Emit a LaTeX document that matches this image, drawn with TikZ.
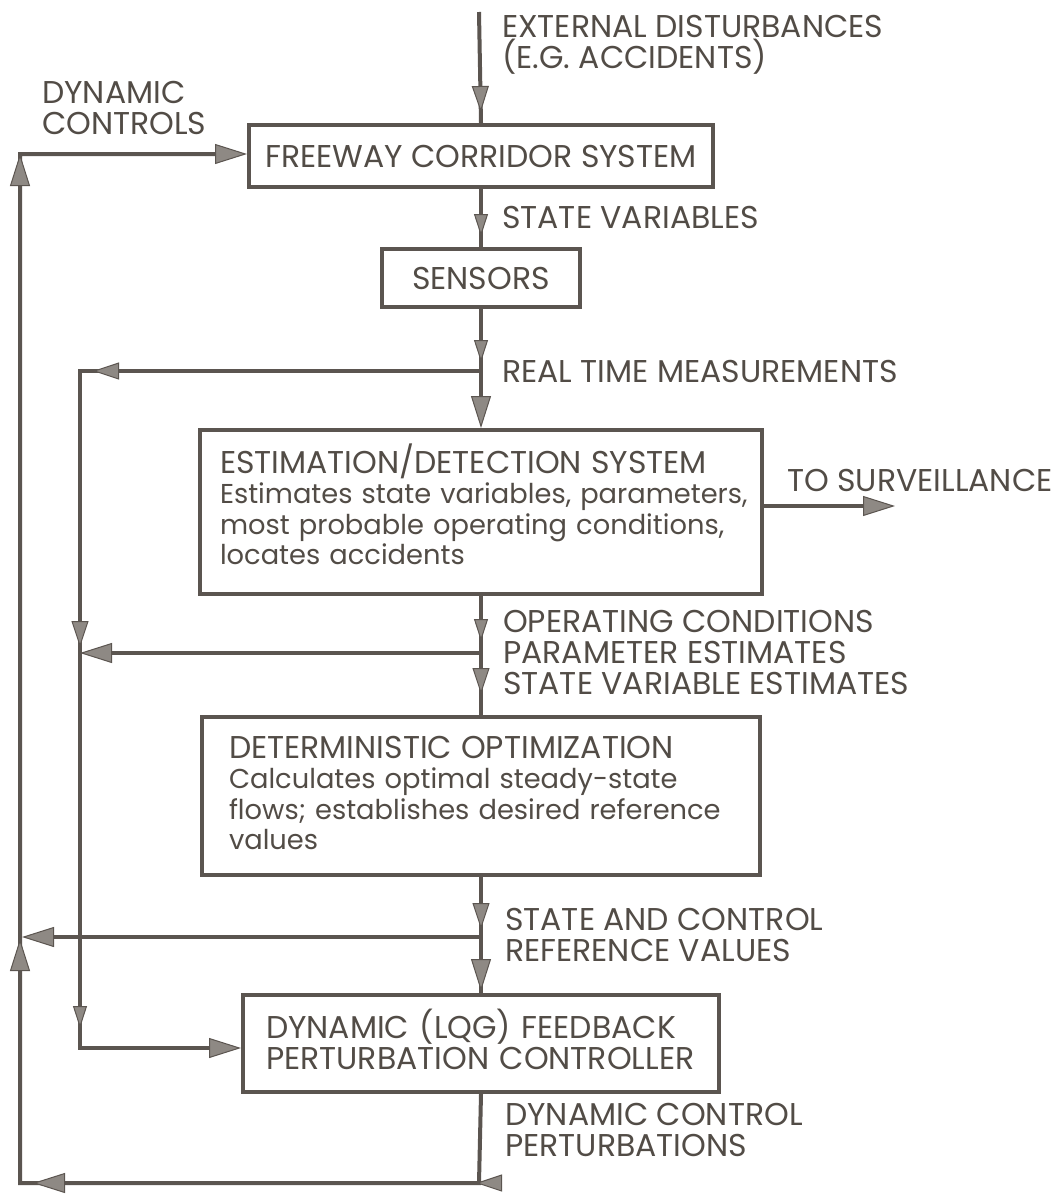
\documentclass[tikz,border=0pt]{standalone}
\usepackage{fontspec}
\setmainfont{Poppins}
\usetikzlibrary{arrows.meta,decorations.markings}
\definecolor{ink}{HTML}{5B5550}
\definecolor{tipfill}{HTML}{8E8984}
\definecolor{txt}{HTML}{524C46}
\newcommand\lblfont{\fontsize{31.5}{31}\selectfont}
\newcommand\lowfont{\fontsize{27.3}{30.5}\selectfont}
\newcommand\capfont{\fontsize{31.5}{30.5}\selectfont}
\tikzset{
  BigT/.tip={Triangle[length=32pt,width=20pt,line width=1pt,fill=tipfill]},
  MidT/.tip={Triangle[length=26pt,width=17pt,line width=1pt,fill=tipfill]},
  SmallT/.tip={Triangle[length=22pt,width=14pt,line width=1pt,fill=tipfill]},
  conn/.style={draw=ink, line width=4pt, line join=miter},
  tipat/.style 2 args={postaction={decorate,
      decoration={markings, mark=at position #1 with {\arrow{#2}}}}},
  box/.style={draw=ink, line width=4pt, fill=white, inner sep=0pt,
      anchor=north west, text=txt, font=\lblfont},
  lbl/.style={text=txt, font=\lblfont, inner sep=0pt, anchor=base west, align=left},
}
\begin{document}
\begin{tikzpicture}[x=1pt,y=-1pt]
\useasboundingbox[fill=white] (0,0) rectangle (1061,1194);

% boxes
\node[box, minimum width=464pt, minimum height=62pt] (fw) at (247,123) {FREEWAY CORRIDOR SYSTEM};
\node[box, minimum width=198pt, minimum height=58pt] (sens) at (380,247) {SENSORS};
\node[box, minimum width=562pt, minimum height=164pt, inner xsep=20pt,
      text width=522pt, align=left, font=\lowfont] (est) at (198,428)
  {\mbox{\capfont ESTIMATION/DETECTION SYSTEM}\\
   \mbox{Estimates state variables, parameters,}\\
   \mbox{most probable operating conditions,}\\
   \mbox{locates accidents}\rule[-16pt]{0pt}{1pt}};
\node[box, minimum width=558pt, minimum height=158pt, inner xsep=27pt,
      text width=504pt, align=left, font=\lowfont] (det) at (200,715)
  {\mbox{\capfont DETERMINISTIC OPTIMIZATION}\\
   \mbox{Calculates optimal steady-state}\\
   \mbox{flows; establishes desired reference}\\
   \mbox{values}\rule[-6pt]{0pt}{1pt}};
\node[box, minimum width=476pt, minimum height=97pt, inner xsep=23pt,
      text width=430pt, align=left, font=\capfont] (dyn) at (241,993)
  {\mbox{DYNAMIC (LQG) FEEDBACK}\\
   \mbox{PERTURBATION CONTROLLER}\rule[-8pt]{0pt}{1pt}};

% labels (base = baseline of the last line)
\node[lbl] (lext) at (502,68) {EXTERNAL DISTURBANCES\\(E.G. ACCIDENTS)};
\node[lbl] (ldyn) at (42,134) {DYNAMIC\\CONTROLS};
\node[lbl] (lsv) at (502,228) {STATE VARIABLES};
\node[lbl] (lrt) at (502,382) {REAL TIME MEASUREMENTS};
\node[lbl] (lsurv) at (787,491) {TO SURVEILLANCE};
\node[lbl] (lop) at (503,694) {OPERATING CONDITIONS\\PARAMETER ESTIMATES\\STATE VARIABLE ESTIMATES};
\node[lbl] (lref) at (505,961) {STATE AND CONTROL\\REFERENCE VALUES};
\node[lbl] (lpert) at (505,1156) {DYNAMIC CONTROL\\PERTURBATIONS};

% junctions and corners
\coordinate (top) at (479,12);
\coordinate (b1) at (479,371);
\coordinate (c1) at (80,371);
\coordinate (c2) at (80,1048);
\coordinate (b2) at (479,653);
\coordinate (b3) at (479,937);
\coordinate (bot) at (479,1183);
\coordinate (o1) at (20,154);
\coordinate (o2) at (20,1183);
\coordinate (o3) at (22,937);
\coordinate (surv) at (895,506);

% connectors
\draw[conn, tipat={100pt}{MidT}] (top) -- (fw.north);
\draw[conn, tipat={47pt}{SmallT}] (fw.south) -- (fw.south |- sens.north);
\draw[conn, tipat={53pt}{SmallT}, -{BigT}] (sens.south) -- (sens.south |- est.north);
\draw[conn, tipat={386pt}{MidT}, tipat={675pt}{MidT}, tipat={1056pt}{SmallT}, -{BigT}]
  (b1) -- (c1) -- (c2) -- (c2 -| dyn.west);
\draw[conn, -{BigT}] (b2) -- (b2 -| c1);
\draw[conn, tipat={45pt}{SmallT}, tipat={98pt}{MidT}] (est.south) -- (est.south |- det.north);
\draw[conn, -{BigT}] (surv -| est.east) -- (surv);
\draw[conn, tipat={52pt}{MidT}, tipat={114pt}{BigT}] (det.south) -- (det.south |- dyn.north);
\draw[conn, -{BigT}] (b3) -- (o3);
\draw[conn, tipat={92pt}{MidT}, tipat={535pt}{BigT}, tipat={792pt}{BigT}, tipat={1577pt}{BigT}, -{BigT}]
  (dyn.south) -- (bot) -- (o2) -- (o1) -- (o1 -| fw.west);
\end{tikzpicture}
\end{document}
